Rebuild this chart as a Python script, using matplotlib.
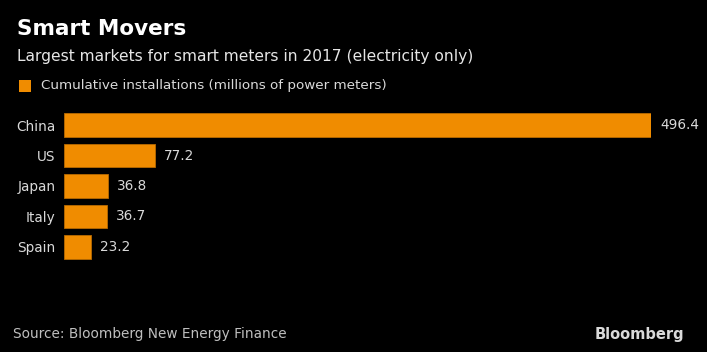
import matplotlib
matplotlib.use("Agg")
import matplotlib.pyplot as plt
from matplotlib.patches import Rectangle

categories = ["China", "US", "Japan", "Italy", "Spain"]
values = [496.4, 77.2, 36.8, 36.7, 23.2]
value_labels = ["496.4", "77.2", "36.8", "36.7", "23.2"]

W, H = 707, 352
fig = plt.figure(figsize=(W / 100, H / 100), dpi=100, facecolor="black")
plt.rcParams['font.family'] = ['DejaVu Sans']

orange = "#F08C00"
txt = "#d9d9d9"

ax_left, ax_right = 64, 651
ax_top, ax_bottom = 110, 262
ax = fig.add_axes([ax_left / W, 1 - ax_bottom / H, (ax_right - ax_left) / W, (ax_bottom - ax_top) / H])
ax.set_facecolor("black")
ypos = list(range(len(categories)))
ax.barh(ypos, values, height=0.78, color=orange, edgecolor="#b86a00", linewidth=0.6)
ax.set_xlim(0, max(values))
ax.set_ylim(len(categories) - 0.5, -0.5)
ax.set_yticks(ypos)
ax.set_yticklabels(categories, color=txt, fontsize=9.8)
ax.tick_params(axis="y", length=0, pad=6)
ax.set_xticks([])
for s in ax.spines.values():
    s.set_visible(False)
for y, v, lab in zip(ypos, values, value_labels):
    ax.annotate(lab, (v, y), xytext=(9, 0), textcoords="offset pixels",
                va="center", ha="left", color=txt, fontsize=9.8, clip_on=False)

fig.text(17 / W, 1 - 29 / H, "Smart Movers", color="white", fontsize=15.5, fontweight="bold", va="center", ha="left")
fig.text(17 / W, 1 - 57 / H, "Largest markets for smart meters in 2017 (electricity only)", color="#e6e6e6",
         fontsize=11.2, va="center", ha="left")
fig.patches.append(Rectangle((19 / W, 1 - 92 / H), 12 / W, 12 / H, transform=fig.transFigure,
                             facecolor=orange, edgecolor="none"))
fig.text(41 / W, 1 - 86 / H, "Cumulative installations (millions of power meters)", color=txt,
         fontsize=9.7, va="center", ha="left")

fig.text(13 / W, 1 - 334 / H, "Source: Bloomberg New Energy Finance", color="#bfbfbf", fontsize=9.8,
         va="center", ha="left")
fig.text(684 / W, 1 - 334 / H, "Bloomberg", color="#d9d9d9", fontsize=10.5, fontweight="bold",
         va="center", ha="right")

fig.savefig("out.png", dpi=100, facecolor="black")
